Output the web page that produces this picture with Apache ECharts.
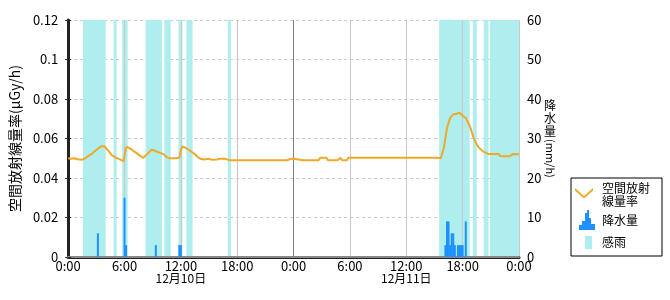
<!DOCTYPE html>
<html>
<head>
<meta charset="utf-8">
<script src="https://cdn.jsdelivr.net/npm/echarts@6/dist/echarts.min.js"></script>
<style>
html,body{margin:0;padding:0;background:#fff;}
#chart{width:670px;height:300px;}
</style>
</head>
<body>
<div id="chart"></div>
<script>
// ---- data (times are "DD HH:MM", December) ----
const doseTimes = [
 '10 00:00','10 00:20','10 00:40','10 01:00','10 01:10','10 01:30','10 01:50','10 02:10','10 02:30','10 02:50',
 '10 03:10','10 03:30','10 03:50','10 04:00','10 04:20','10 04:40','10 05:00','10 05:20','10 05:40','10 05:55',
 '10 06:05','10 06:15','10 06:40','10 07:00','10 07:20','10 07:40','10 08:00','10 08:10','10 08:30','10 08:50',
 '10 09:10','10 09:30','10 09:50','10 10:10','10 10:30','10 10:50','10 11:10','10 11:30','10 11:50','10 12:00',
 '10 12:10','10 12:30','10 12:50','10 13:10','10 13:30','10 13:50','10 14:10','10 14:30','10 15:00','10 15:20',
 '10 15:50','10 16:10','10 16:20','10 16:40','10 16:50','10 17:10','10 18:00','10 19:00','10 20:00','10 20:50',
 '10 21:00','10 21:10','10 22:00','10 23:00','10 23:10','10 23:20','10 23:40','10 23:50',
 '11 00:00','11 00:10','11 01:00','11 02:00','11 02:40','11 02:50','11 03:30','11 03:40','11 04:40','11 05:00',
 '11 05:10','11 05:40','11 05:50','11 08:00','11 10:00','11 12:00','11 12:40','11 12:50','11 13:00','11 15:00',
 '11 15:20','11 15:30','11 15:40','11 16:00','11 16:20','11 16:40','11 17:00','11 17:20','11 17:40','11 18:00',
 '11 18:20','11 18:50','11 19:10','11 19:30','11 19:50','11 20:10','11 20:40','11 21:00','11 21:30','11 21:50',
 '11 22:00','11 22:30','11 23:00','11 23:20','11 23:40','12 00:00'
];
const doseValues = [
 0.0500,0.0497,0.0500,0.0495,0.0490,0.0493,0.0500,0.0512,0.0522,0.0535,
 0.0548,0.0560,0.0562,0.0555,0.0535,0.0515,0.0505,0.0498,0.0490,0.0486,
 0.0540,0.0558,0.0548,0.0535,0.0525,0.0512,0.0502,0.0496,0.0525,0.0542,
 0.0540,0.0532,0.0527,0.0520,0.0505,0.0500,0.0500,0.0500,0.0502,0.0540,
 0.0560,0.0552,0.0542,0.0532,0.0520,0.0505,0.0496,0.0494,0.0497,0.0492,
 0.0494,0.0498,0.0491,0.0498,0.0491,0.0490,0.0490,0.0490,0.0490,0.0490,
 0.0495,0.0490,0.0490,0.0490,0.0497,0.0490,0.0497,0.0490,
 0.0497,0.0490,0.0490,0.0490,0.0490,0.0502,0.0502,0.0490,0.0490,0.0502,
 0.0490,0.0490,0.0502,0.0502,0.0502,0.0502,0.0502,0.0510,0.0502,0.0502,
 0.0502,0.0510,0.0500,0.0552,0.0653,0.0704,0.0722,0.0725,0.0730,0.0715,
 0.0705,0.0653,0.0603,0.0569,0.0548,0.0535,0.0523,0.0522,0.0522,0.0522,
 0.0511,0.0510,0.0510,0.0521,0.0520,0.0520
];
const rainTimes = [
 '10 03:10','10 06:00','10 06:10','10 09:20','10 11:50','10 12:00',
 '11 16:10','11 16:20','11 16:30','11 16:40','11 16:50','11 17:00','11 17:10',
 '11 17:30','11 17:40','11 17:50','11 18:00','11 18:20'
];
const rainValues = [6,15,3,3,3,3, 3,9,9,3,6,6,3, 3,3,3,3,9];
const senseStart = ['10 01:35','10 04:50','10 05:45','10 08:15','10 10:15','10 11:45','10 12:35','10 17:00',
                    '11 15:30','11 19:05','11 20:15','11 20:55'];
const senseEnd   = ['10 04:00','10 05:10','10 06:20','10 10:00','10 10:55','10 12:10','10 13:15','10 17:20',
                    '11 18:45','11 19:30','11 20:45','12 00:00'];
const xTickLabels = ['0:00','6:00','12:00','18:00','0:00','6:00','12:00','18:00','0:00'];
const xDateLabels = ['','','12月10日','','','','12月11日','',''];
const yLeftLabels = ['0','0.02','0.04','0.06','0.08','0.1','0.12'];
const yRightLabels = ['0','10','20','30','40','50','60'];

// hours since Dec 10 00:00
function toH(s){
  const d = parseInt(s.slice(0,2),10), h = parseInt(s.slice(3,5),10), m = parseInt(s.slice(6,8),10);
  return (d-10)*24 + h + m/60;
}
const F = 'Noto Sans CJK JP';
const doseData = doseTimes.map((t,i)=>[toH(t), doseValues[i]]);
const rainData = rainTimes.map((t,i)=>[toH(t), rainValues[i]]);
const senseData = senseStart.map((s,i)=>[toH(s), toH(senseEnd[i])]);

const frame = 'M0,0h0.01v0.01Z M22,20h-0.01v-0.01Z ';
const iconV = 'path://' + frame + 'M0,3L9,11L18,3L18,5.6L9,13.6L0,5.6Z';
const iconBar = 'path://' + frame + 'M4,20L4,15L7,15L7,11L10,11L10,3L12,3L12,0L14,0L14,8L16,8L16,14L20,14L20,20Z';
const iconRect = 'path://' + frame + 'M10,4L17,4L17,17L10,17Z';

const chart = echarts.init(document.getElementById('chart'), null, {renderer:'canvas'});
chart.setOption({
  animation:false,
  backgroundColor:'#fff',
  textStyle:{fontFamily:F},
  grid:{left:65,right:151,top:20,bottom:43,show:false},
  legend:{
    orient:'vertical', left:571, top:178,
    padding:[4,12,4,4], itemGap:2,
    itemWidth:22, itemHeight:20,
    symbolKeepAspect:false,
    borderColor:'#000', borderWidth:1, backgroundColor:'#fff',
    selectedMode:false,
    itemStyle:{borderWidth:0},
    textStyle:{fontFamily:F,fontSize:12,lineHeight:13,color:'#000'},
    formatter:function(n){ return n==='空間放射線量率' ? '空間放射\n線量率' : n; },
    data:[
      {name:'空間放射線量率', icon:iconV},
      {name:'降水量', icon:iconBar},
      {name:'感雨', icon:iconRect}
    ]
  },
  xAxis:[{
    type:'value', min:0, max:48, interval:6,
    axisLine:{show:true,lineStyle:{color:'#222',width:3}},
    axisTick:{show:false},
    axisLabel:{
      margin:3, color:'#000', fontFamily:F, fontSize:13, lineHeight:12,
      formatter:function(v){
        const i = Math.round(v/6);
        let s = xTickLabels[i];
        if (xDateLabels[i]) s += '\n{d|' + xDateLabels[i] + '}';
        return s;
      },
      rich:{d:{fontFamily:F,fontSize:12,lineHeight:12,color:'#000'}}
    },
    splitLine:{show:true,lineStyle:{color:['#c8c8c8','#c8c8c8','#c8c8c8','#c8c8c8','#808080','#c8c8c8','#c8c8c8','#c8c8c8'],width:1}}
  },{
    type:'value', min:0, max:48, position:'top',
    axisLine:{show:true,lineStyle:{color:'#888',width:2}},
    axisTick:{show:false}, axisLabel:{show:false}, splitLine:{show:false}
  }],
  yAxis:[{
    type:'value', min:0, max:0.12, interval:0.02, z:-2,
    name:'空間放射線量率(μGy/h)', nameLocation:'middle', nameGap:37,
    nameTextStyle:{fontFamily:F,fontSize:14,color:'#000'},
    axisLine:{show:true,lineStyle:{color:'#222',width:3}},
    axisTick:{show:true,length:3,lineStyle:{color:'#222'}},
    axisLabel:{margin:10,color:'#000',fontFamily:F,fontSize:13,
      formatter:function(v){ return yLeftLabels[Math.round(v/0.02)]; }},
    splitLine:{show:true,lineStyle:{color:'#c8c8c8',type:[3,3],width:1}}
  },{
    type:'value', min:0, max:60, interval:10, position:'right',
    axisLine:{show:true,lineStyle:{color:'#222',width:2}},
    axisTick:{show:true,length:3,lineStyle:{color:'#222'}},
    axisLabel:{margin:8,color:'#000',fontFamily:F,fontSize:13,
      formatter:function(v){ return yRightLabels[Math.round(v/10)]; }},
    splitLine:{show:false}
  }],
  graphic:[
    {type:'text', left:544, top:99, z:10,
     style:{text:'降\n水\n量', font:'12px "Noto Sans CJK JP"', lineHeight:13, fill:'#000'}},
    {type:'text', x:556, y:139, rotation:-Math.PI/2, z:10,
     style:{text:'(mm/h)', font:'11px "Noto Sans CJK JP"', fill:'#000'}}
  ],
  series:[
    {
      name:'空間放射線量率', type:'line', data:doseData,
      xAxisIndex:0, yAxisIndex:0, showSymbol:false, symbol:'none',
      lineStyle:{color:'#f0a828',width:2}, itemStyle:{color:'#f0a828'}, z:3
    },
    {
      name:'降水量', type:'bar', data:rainData,
      xAxisIndex:0, yAxisIndex:1, barWidth:2,
      itemStyle:{color:'#1e90ff'}, z:2
    },
    {
      name:'感雨', type:'custom', data:senseData,
      xAxisIndex:0, yAxisIndex:1, z:-1,
      itemStyle:{color:'#afeeee'},
      encode:{x:[0,1]},
      renderItem:function(params, api){
        const p0 = api.coord([api.value(0), 60]);
        const p1 = api.coord([api.value(1), 0]);
        return {type:'rect', shape:{x:p0[0], y:p0[1], width:p1[0]-p0[0], height:p1[1]-p0[1]},
                style:{fill:'#afeeee'}};
      }
    }
  ]
});
</script>
</body>
</html>
